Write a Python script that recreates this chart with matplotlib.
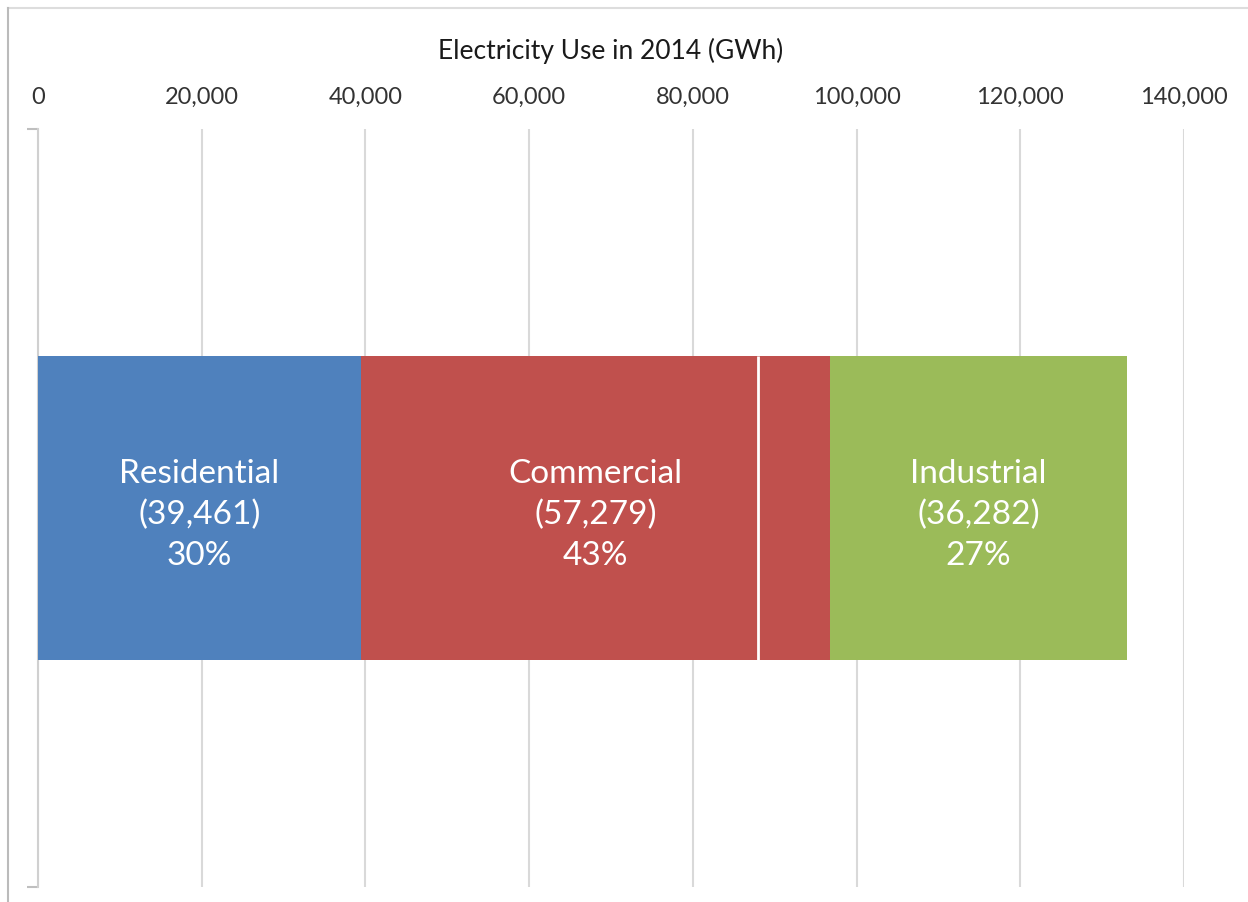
import matplotlib
matplotlib.use("Agg")
import matplotlib.pyplot as plt
from matplotlib.lines import Line2D
from matplotlib.ticker import FuncFormatter

# ----- DATA -----
sectors = ["Residential", "Commercial", "Industrial"]
use_gwh = [39461, 57279, 36282]
shares = ["30%", "43%", "27%"]
commercial_split = 87900   # thin white divider inside the commercial bar
x_ticks = [0, 20000, 40000, 60000, 80000, 100000, 120000, 140000]

colors = ["#4F81BD", "#C0504D", "#9BBB59"]
grid_col = "#D9D9D9"

plt.rcParams["font.family"] = ["Lato", "DejaVu Sans"]

fig = plt.figure(figsize=(12.48, 9.03), dpi=100)
ax = fig.add_axes([38 / 1248, 1 - 888 / 903, (1184 - 38) / 1248, (888 - 130) / 903])

bar_h = 0.4
left = 0
for name, val, pct, col in zip(sectors, use_gwh, shares, colors):
    ax.barh(0, val, left=left, height=bar_h, color=col, zorder=3)
    ax.text(left + val / 2, -0.008, f"{name}\n({val:,})\n{pct}", ha="center", va="center",
            color="white", fontsize=24, linespacing=1.45, zorder=4)
    left += val

ax.vlines(commercial_split, -bar_h / 2, bar_h / 2, color="white", lw=2, zorder=4)

ax.set_xlim(0, 140000)
ax.set_ylim(-0.5, 0.5)
ax.set_xticks(x_ticks)
ax.xaxis.set_major_formatter(FuncFormatter(lambda v, p: f"{int(v):,}"))
ax.xaxis.tick_top()
ax.xaxis.set_label_position("top")
ax.tick_params(axis="x", length=0, pad=16, labelsize=17, colors="#333333")
ax.set_xlabel("Electricity Use in 2014 (GWh)", fontsize=19, color="#1a1a1a", labelpad=20)
ax.set_yticks([-0.5, 0.5])
ax.set_yticklabels([])
ax.tick_params(axis="y", length=8, width=1.5, color="#BFBFBF", direction="out")
ax.grid(axis="x", color=grid_col, lw=1.5, zorder=0)

for s in ["top", "right", "bottom"]:
    ax.spines[s].set_visible(False)
ax.spines["left"].set_color("#D0D0D0")
ax.spines["left"].set_linewidth(1.5)

# outer frame (top and left edges only)
fig.add_artist(Line2D([8 / 1248, 1], [1 - 9 / 903, 1 - 9 / 903], color="#DDDDDD", lw=1.5))
fig.add_artist(Line2D([8 / 1248, 8 / 1248], [0, 1 - 9 / 903], color="#BBBBBB", lw=1.5))

fig.savefig("out.png", dpi=100)
